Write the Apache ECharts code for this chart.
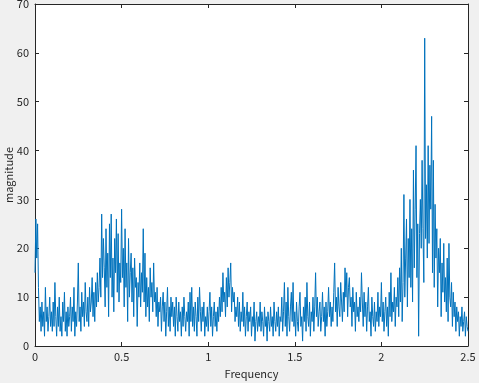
<!DOCTYPE html>
<html>
<head>
<meta charset="utf-8">
<script src="https://cdn.jsdelivr.net/npm/echarts@6/dist/echarts.min.js"></script>
<style>
html,body{margin:0;padding:0;background:#f0f0f0;}
#c{width:479px;height:383px;}
</style>
</head>
<body>
<div id="c"></div>
<script>
// Frequency grid
const freqStart = 0;
const freqStep = 0.005;
// Magnitude values, 0.1-wide blocks
const magnitude = [
// 0.0
15,26,18,25,12,5,8,3,9,4,7,2,12,5,8,3,6,10,4,7,
// 0.1
3,9,4,13,6,2,8,4,10,3,6,2,9,5,11,3,7,2,8,4,
// 0.2
6,10,3,8,5,12,2,7,4,9,17,5,8,3,11,6,9,4,13,7,
// 0.3
5,10,4,12,7,9,14,6,11,5,13,8,15,9,12,18,10,27,14,22,
// 0.4
16,8,24,12,19,6,25,14,27,10,18,7,22,15,26,11,23,9,17,13,
// 0.5
28,14,20,8,24,12,17,5,22,10,15,19,9,16,6,18,12,14,4,13,
// 0.6
10,17,8,15,11,24,9,19,6,14,8,12,5,16,10,13,7,17,9,11,
// 0.7
6,12,4,9,7,10,3,8,11,5,9,2,7,12,4,8,3,10,6,9,
// 0.8
4,8,2,10,6,3,9,5,7,2,8,4,10,6,3,7,5,9,2,11,
// 0.9
5,12,4,8,3,9,6,2,10,5,12,7,3,8,5,9,2,6,4,8,
// 1.0
3,7,11,4,8,2,6,9,4,7,3,8,5,10,6,12,7,15,9,11,
// 1.1
6,14,8,16,10,13,17,7,12,9,11,5,8,6,10,4,9,3,7,5,
// 1.2
11,4,8,2,6,9,3,7,5,8,2,6,4,9,1,5,7,3,6,4,
// 1.3
9,3,7,5,2,8,4,6,1,7,5,3,8,4,6,2,9,5,3,7,
// 1.4
4,8,2,6,5,10,3,7,13,4,9,2,12,6,3,8,11,5,13,4,
// 1.5
7,2,9,5,3,8,11,4,6,1,8,5,10,3,13,6,4,9,2,7,
// 1.6
5,10,3,8,15,6,10,4,7,9,3,6,11,5,8,2,9,4,7,12,
// 1.7
6,9,4,8,5,11,17,7,10,4,12,8,6,13,9,5,11,7,16,10,
// 1.8
15,6,12,14,8,10,4,12,7,9,3,11,6,8,5,10,7,15,9,4,
// 1.9
11,6,9,3,8,12,5,7,2,10,6,4,9,3,7,5,11,4,8,6,
// 2.0
13,5,9,3,7,10,4,8,2,11,6,15,5,9,7,12,4,10,8,14,
// 2.1
6,16,9,20,5,13,31,10,18,26,8,22,14,30,12,24,9,36,16,28,
// 2.2
41,14,25,2,23,30,20,38,24,13,63,22,33,18,41,21,37,28,47,15,
// 2.3
38,12,29,18,24,8,20,15,22,6,17,11,21,9,14,7,18,5,21,10,
// 2.4
8,13,4,11,6,9,3,8,5,7,2,6,4,8,3,5,7,2,6,4,
// 2.5
3
];
const xTicks = [0, 0.5, 1, 1.5, 2, 2.5];
const yTicks = [0, 10, 20, 30, 40, 50, 60, 70];

const seriesData = magnitude.map((v, i) => [+(freqStart + i * freqStep).toFixed(4), v]);

const axisColor = '#262626';
const font = '"Noto Sans CJK JP", "DejaVu Sans", sans-serif';
const chart = echarts.init(document.getElementById('c'), null, {renderer: 'canvas'});
const xCommon = {
  type: 'value', min: xTicks[0], max: xTicks[xTicks.length - 1], interval: 0.5,
  axisLine: {show: true, onZero: false, lineStyle: {color: axisColor, width: 1}},
  axisTick: {show: true, inside: true, length: 4, lineStyle: {color: axisColor}},
  splitLine: {show: false}
};
const yCommon = {
  type: 'value', min: yTicks[0], max: yTicks[yTicks.length - 1], interval: 10,
  axisLine: {show: true, onZero: false, lineStyle: {color: axisColor, width: 1}},
  axisTick: {show: true, inside: true, length: 4, lineStyle: {color: axisColor}},
  splitLine: {show: false}
};
chart.setOption({
  backgroundColor: '#f0f0f0',
  animation: false,
  grid: {left: 35, right: 11, top: 4, bottom: 37, show: true, backgroundColor: '#ffffff', borderWidth: 0,
         containLabel: false, outerBoundsMode: 'none'},
  xAxis: [
    Object.assign({}, xCommon, {
      position: 'bottom',
      name: 'Frequency', nameLocation: 'middle', nameGap: 22, nameMoveOverlap: false,
      nameTextStyle: {color: axisColor, fontSize: 11, fontFamily: font},
      axisLabel: {color: axisColor, fontSize: 11, fontFamily: font, margin: 5}
    }),
    Object.assign({}, xCommon, {position: 'top', axisLabel: {show: false}})
  ],
  yAxis: [
    Object.assign({}, yCommon, {
      position: 'left',
      name: 'magnitude', nameLocation: 'middle', nameGap: 21, nameRotate: 90, nameMoveOverlap: false,
      nameTextStyle: {color: axisColor, fontSize: 11, fontFamily: font},
      axisLabel: {color: axisColor, fontSize: 11, fontFamily: font, margin: 6}
    }),
    Object.assign({}, yCommon, {position: 'right', axisLabel: {show: false}})
  ],
  series: [{
    type: 'line',
    data: seriesData,
    xAxisIndex: 0, yAxisIndex: 0,
    showSymbol: false,
    symbol: 'none',
    lineStyle: {color: '#0072BD', width: 1},
    sampling: null,
    silent: true
  }]
});
</script>
</body>
</html>
